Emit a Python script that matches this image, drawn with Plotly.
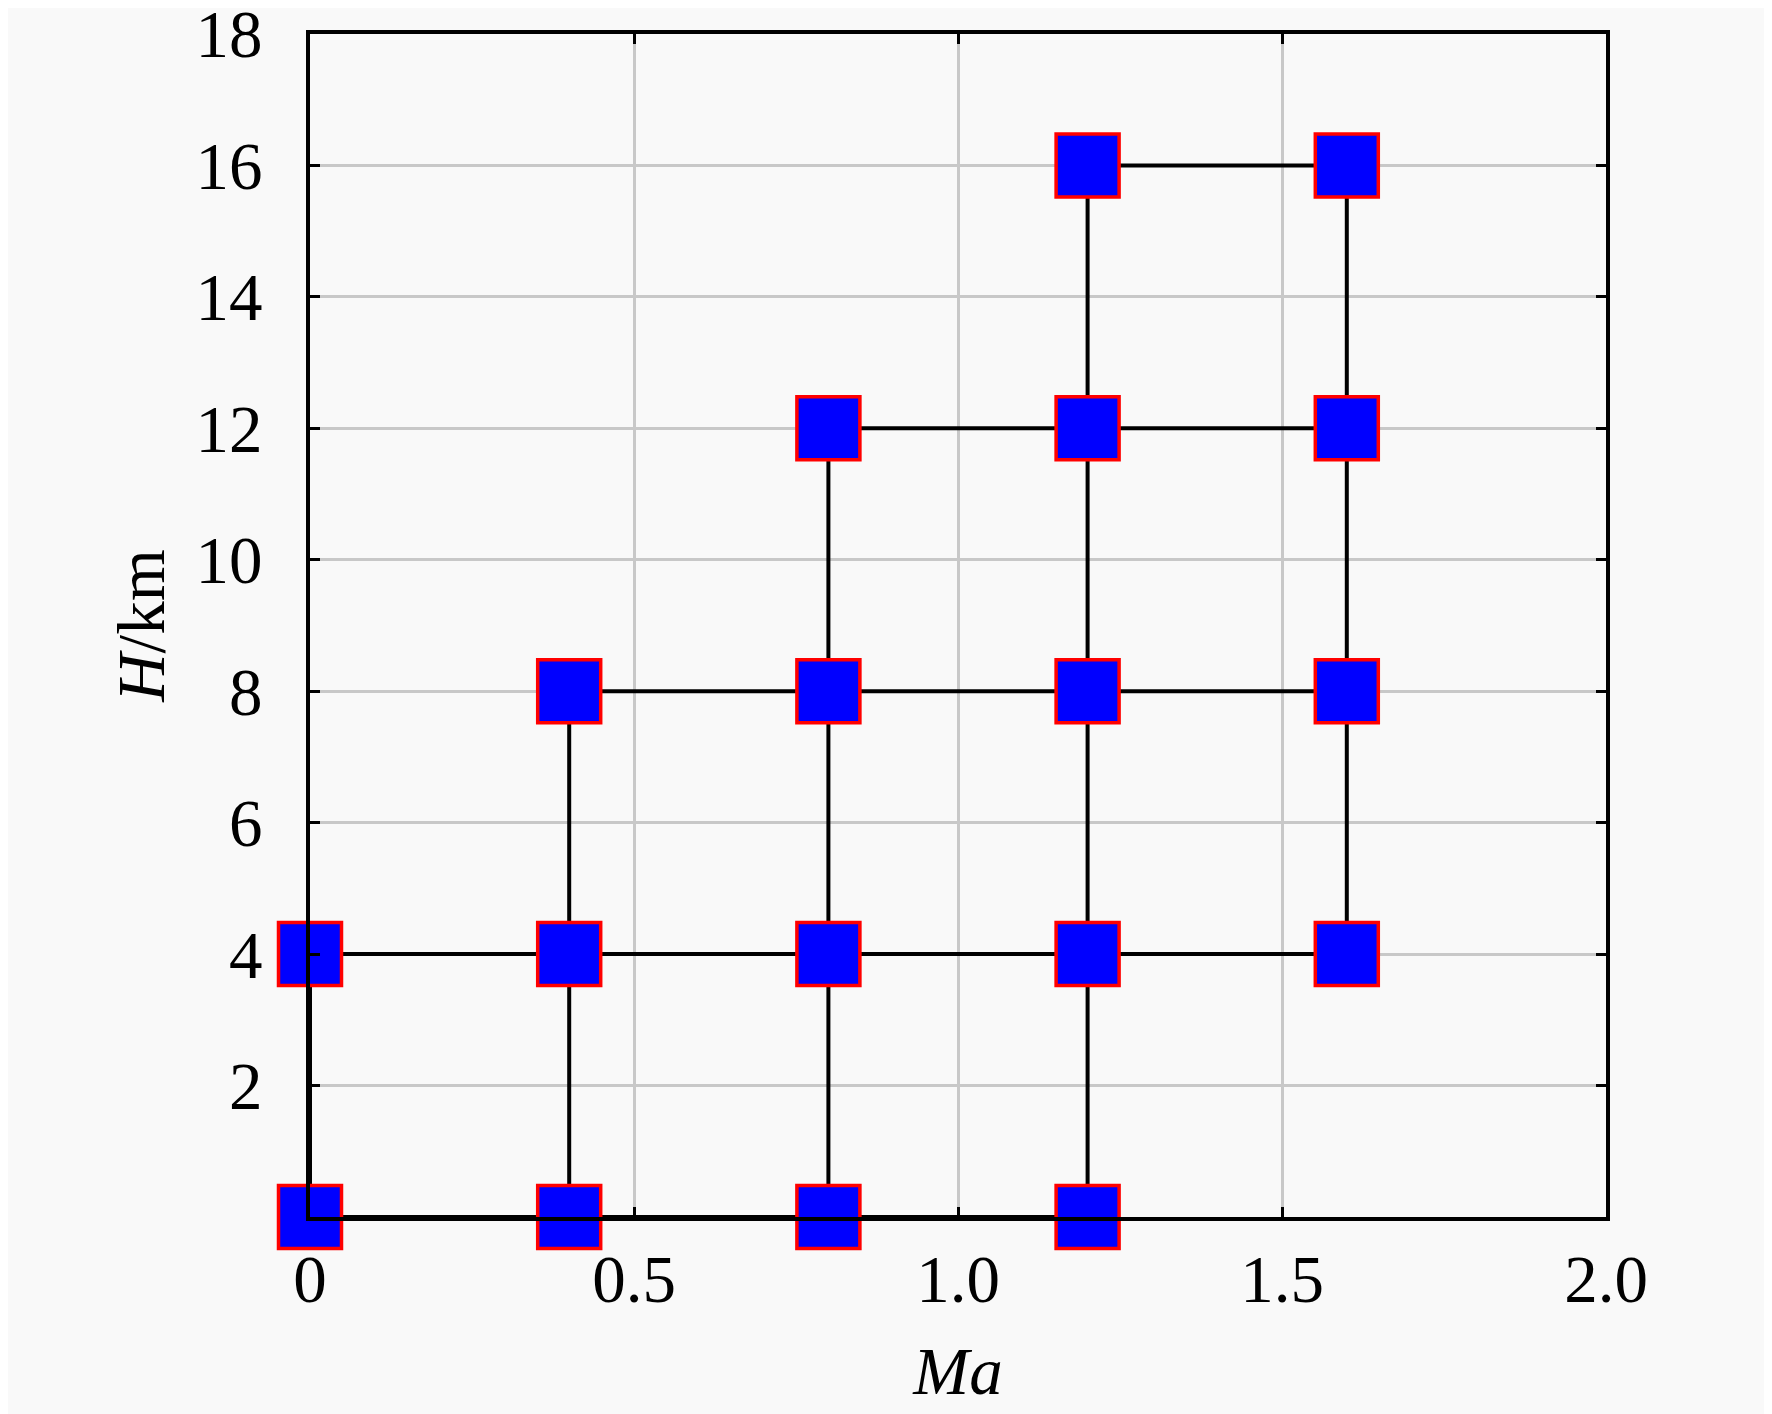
import plotly.graph_objects as go

# Data: flight envelope test points (Ma, H/km)
ma_points = [0, 0, 0.4, 0.4, 0.4, 0.8, 0.8, 0.8, 0.8, 1.2, 1.2, 1.2, 1.2, 1.2, 1.6, 1.6, 1.6, 1.6]
h_points = [0, 4, 0, 4, 8, 0, 4, 8, 12, 0, 4, 8, 12, 16, 4, 8, 12, 16]

x_tickvals = [0, 0.5, 1.0, 1.5, 2.0]
x_ticktext = ["0", "0.5", "1.0", "1.5", "2.0"]
y_tickvals = [2, 4, 6, 8, 10, 12, 14, 16, 18]
y_ticktext = ["2", "4", "6", "8", "10", "12", "14", "16", "18"]

# Build connecting grid lines from the points
lx, ly = [], []
for m in sorted(set(ma_points)):
    hs = [h for mm, h in zip(ma_points, h_points) if mm == m]
    lx += [m, m, None]
    ly += [min(hs), max(hs), None]
for hv in sorted(set(h_points)):
    ms = [mm for mm, h in zip(ma_points, h_points) if h == hv]
    lx += [min(ms), max(ms), None]
    ly += [hv, hv, None]

fig = go.Figure()
fig.add_trace(go.Scatter(x=lx, y=ly, mode="lines",
                         line=dict(color="black", width=4),
                         hoverinfo="skip", showlegend=False, cliponaxis=False))
fig.add_trace(go.Scatter(x=ma_points, y=h_points, mode="markers",
                         marker=dict(symbol="square", size=63, color="#0000ff",
                                     line=dict(color="#ff0000", width=3.5)),
                         showlegend=False, cliponaxis=False))

font_family = "Liberation Serif"
fig.update_layout(
    width=1772, height=1414,
    margin=dict(l=302, r=174, t=26, b=205, autoexpand=False),
    paper_bgcolor="#f9f9f9", plot_bgcolor="#f9f9f9",
    font=dict(family=font_family, size=67, color="black"),
    xaxis=dict(range=[0, 2.0], tickvals=x_tickvals, ticktext=x_ticktext,
               showgrid=True, gridcolor="#c8c8c8", gridwidth=3,
               showline=True, linecolor="black", linewidth=4, mirror="ticks",
               ticks="inside", ticklen=10, tickwidth=3, tickcolor="black",
               zeroline=False, ticklabelstandoff=1, ticklabeloverflow="allow",
               automargin=False,
               title=dict(text="<i>Ma</i>", font=dict(size=67, family=font_family), standoff=33)),
    yaxis=dict(range=[0, 18], tickvals=y_tickvals, ticktext=y_ticktext,
               showgrid=True, gridcolor="#c8c8c8", gridwidth=3,
               showline=True, linecolor="black", linewidth=4, mirror="ticks",
               ticks="inside", ticklen=10, tickwidth=3, tickcolor="black",
               zeroline=False, ticklabelstandoff=30, ticklabeloverflow="allow",
               automargin=False,
               title=dict(text="<i>H</i>/km", font=dict(size=67, family=font_family), standoff=10)),
)

fig.write_html("out.html")
